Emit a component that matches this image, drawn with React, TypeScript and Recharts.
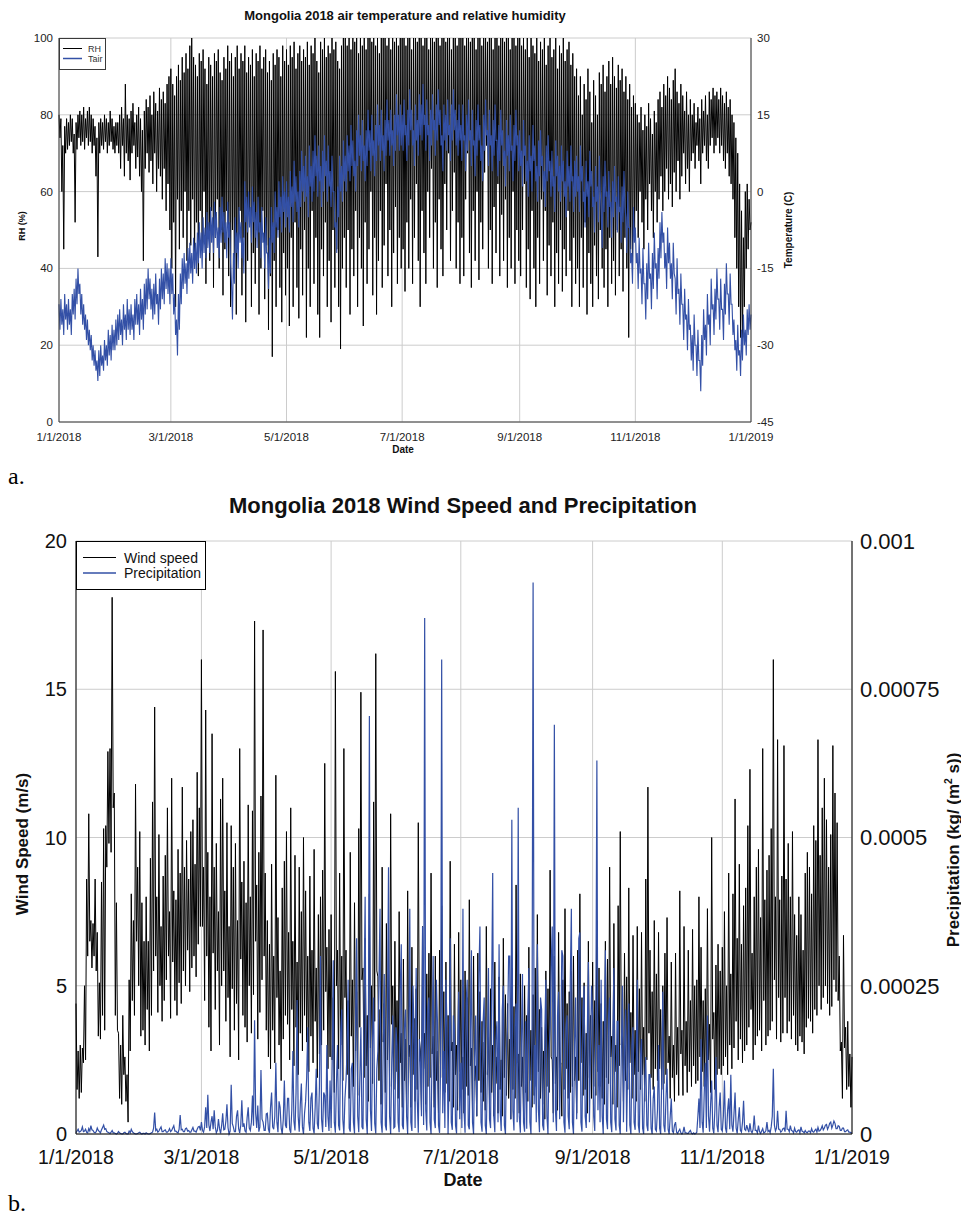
import React from 'react';
import { LineChart, Line, XAxis, YAxis, CartesianGrid } from 'recharts';

const FONT = '"Liberation Sans", Arial, Helvetica, sans-serif';
const SERIF = '"Liberation Serif", "Times New Roman", serif';

// x axis: day of year, 0 = 1/1/2018, 365 = 1/1/2019
const dateTickDays = [0, 59, 120, 181, 243, 304, 365];
const dateTickLabels = ['1/1/2018', '3/1/2018', '5/1/2018', '7/1/2018', '9/1/2018', '11/1/2018', '1/1/2019'];

const rhTicks = [0, 20, 40, 60, 80, 100];
const tempTicks = [-45, -30, -15, 0, 15, 30];
const windTicks = [0, 5, 10, 15, 20];
const precipTicks = [0, 0.00025, 0.0005, 0.00075, 0.001];

// relative humidity (%), two readings per day (one line per month)
const relHumidity = [
  80, 74, 79, 60, 72, 45, 77, 70, 79, 71, 78, 72, 80, 73, 79, 70, 75, 52, 78, 71, 80, 74, 81, 72, 80, 73, 82, 71, 79, 74, 81, 72, 82, 73, 80, 70, 79, 72, 77, 64, 74, 43, 78, 70, 79, 72, 78, 71, 80, 73, 79, 70, 78, 72, 81, 73, 79, 71, 77, 70, 78, 72,
  78, 70, 80, 66, 82, 72, 79, 64, 88, 70, 80, 68, 79, 63, 81, 70, 83, 72, 78, 66, 80, 69, 82, 64, 79, 60, 76, 42, 81, 66, 84, 70, 82, 65, 85, 68, 80, 62, 86, 70, 83, 60, 81, 66, 87, 64, 84, 58, 86, 66, 83, 55, 88, 62, 90, 50,
  92, 40, 88, 52, 85, 30, 90, 58, 93, 45, 89, 55, 95, 48, 91, 60, 96, 42, 92, 55, 98, 46, 100, 58, 95, 40, 93, 52, 90, 38, 96, 55, 94, 45, 97, 60, 92, 36, 88, 50, 95, 42, 93, 55, 90, 35, 96, 48, 94, 58, 97, 40, 91, 50, 89, 33, 95, 45, 92, 55, 98, 38,
  94, 30, 96, 50, 90, 38, 95, 28, 98, 45, 92, 55, 96, 33, 94, 48, 98, 26, 91, 42, 95, 52, 93, 30, 97, 44, 90, 36, 96, 50, 94, 28, 98, 40, 92, 55, 95, 32, 97, 46, 91, 24, 94, 38, 89, 17, 96, 42, 93, 30, 97, 50, 95, 35, 90, 26, 98, 44, 94, 33,
  97, 40, 93, 25, 98, 48, 95, 30, 99, 52, 92, 35, 96, 27, 98, 45, 94, 33, 97, 50, 95, 22, 99, 40, 93, 30, 98, 55, 96, 36, 100, 48, 94, 28, 91, 22, 99, 45, 97, 38, 100, 52, 95, 30, 98, 42, 96, 26, 100, 50, 97, 35, 99, 45, 94, 30, 92, 19, 98, 40, 100, 48,
  100, 35, 98, 50, 100, 28, 97, 45, 100, 38, 99, 55, 100, 30, 96, 48, 100, 40, 98, 25, 100, 52, 97, 36, 100, 45, 100, 60, 99, 33, 100, 48, 98, 28, 100, 42, 96, 55, 100, 35, 100, 46, 100, 62, 98, 38, 100, 50, 97, 30, 100, 44, 99, 56, 100, 36, 98, 48, 100, 40,
  100, 45, 100, 34, 98, 52, 100, 40, 100, 58, 97, 36, 100, 48, 100, 62, 99, 42, 100, 30, 100, 55, 98, 44, 100, 36, 100, 60, 97, 48, 100, 66, 100, 40, 99, 52, 100, 35, 100, 58, 98, 45, 100, 38, 100, 62, 99, 50, 100, 70, 100, 42, 97, 55, 100, 65, 100, 40, 98, 52, 100, 36,
  100, 48, 100, 38, 98, 58, 100, 70, 100, 44, 99, 35, 100, 55, 100, 42, 97, 60, 100, 37, 100, 52, 98, 45, 100, 65, 100, 72, 99, 40, 100, 50, 100, 36, 97, 56, 100, 44, 100, 62, 98, 38, 100, 54, 100, 42, 99, 58, 100, 35, 100, 48, 97, 40, 100, 60, 100, 36, 98, 50, 100, 42,
  100, 38, 98, 50, 100, 62, 97, 35, 100, 45, 95, 32, 100, 55, 98, 40, 96, 30, 100, 48, 94, 36, 99, 58, 97, 42, 100, 55, 93, 33, 98, 46, 100, 38, 95, 52, 97, 30, 100, 44, 92, 36, 98, 50, 96, 34, 100, 45, 94, 38, 97, 55, 99, 42, 93, 30, 96, 48, 90, 36,
  92, 40, 85, 30, 90, 48, 80, 35, 88, 52, 84, 28, 92, 44, 86, 36, 78, 30, 89, 46, 85, 38, 80, 32, 91, 50, 88, 40, 93, 35, 86, 45, 90, 30, 94, 48, 88, 36, 95, 42, 90, 33, 87, 50, 93, 38, 89, 45, 92, 34, 86, 48, 90, 40, 84, 22, 88, 45, 82, 38, 85, 50,
  83, 55, 80, 48, 78, 60, 82, 52, 76, 45, 80, 58, 77, 50, 83, 62, 79, 55, 75, 48, 81, 60, 78, 52, 84, 58, 86, 64, 82, 55, 88, 60, 85, 66, 90, 58, 87, 62, 84, 56, 89, 65, 92, 60, 86, 68, 83, 58, 88, 64, 85, 70, 81, 62, 86, 66, 80, 60, 84, 68,
  80, 70, 83, 66, 78, 72, 82, 68, 79, 62, 84, 70, 81, 72, 85, 68, 80, 66, 86, 72, 84, 74, 87, 70, 85, 72, 86, 74, 84, 70, 87, 72, 85, 68, 83, 66, 86, 70, 82, 64, 84, 62, 80, 58, 78, 48, 74, 40, 70, 30, 62, 22, 55, 20, 48, 30, 60, 40, 62, 45, 58, 50,
  52,
];

// air temperature (C), two readings per day (one line per month)
const airTemp = [
  -22, -27, -21, -26, -23, -28, -20, -25, -22, -27, -21, -26, -23, -28, -20, -24, -19, -25, -17, -22, -15, -20, -18, -24, -20, -26, -22, -27, -24, -29, -25, -30, -27, -31, -28, -33, -30, -34, -31, -35, -33, -37, -31, -36, -30, -34, -32, -35, -29, -33, -30, -34, -27, -32, -28, -33, -26, -31, -27, -31, -25, -30,
  -24, -29, -23, -28, -25, -30, -22, -27, -24, -29, -21, -27, -23, -28, -22, -27, -24, -29, -21, -26, -20, -26, -22, -28, -19, -25, -21, -27, -18, -24, -17, -23, -15, -21, -17, -23, -19, -25, -18, -24, -16, -22, -20, -26, -17, -23, -15, -21, -16, -22, -13, -19, -14, -20, -15, -22,
  -13, -20, -16, -24, -20, -28, -25, -32, -20, -27, -16, -22, -13, -19, -12, -18, -14, -20, -11, -17, -10, -16, -12, -18, -9, -15, -10, -16, -8, -14, -6, -13, -8, -15, -5, -12, -7, -13, -4, -11, -6, -12, -3, -10, -5, -12, -2, -9, -4, -11, -7, -13, -3, -10, -1, -8, -4, -10, -6, -13, -2, -9,
  -6, -14, -18, -25, -12, -18, -5, -12, -8, -15, -3, -10, -6, -13, -9, -16, 2, -6, -1, -8, 0, -7, -3, -10, 1, -6, -2, -9, -4, -11, -1, -8, -6, -13, -3, -10, -8, -15, -5, -12, -12, -19, -9, -16, -3, -10, -6, -12, 0, -7, -3, -9, 2, -5, -1, -8, 3, -4, 0, -7,
  2, -5, -1, -8, 4, -3, 1, -6, 6, -2, 3, -4, 0, -7, 4, -3, 8, 0, 5, -2, 7, -1, 3, -5, 9, 1, 5, -2, 8, 0, 11, 3, 7, -1, 9, 2, 5, -3, 8, 0, 11, 3, 6, -2, 9, 1, 4, -3, 7, 0, 0, -7, -6, -12, 1, -5, 7, 0, 5, -2, 10, 2,
  7, 0, 11, 4, 9, 2, 13, 5, 10, 3, 6, 0, 12, 5, 15, 7, 11, 4, 14, 6, 9, 2, 12, 5, 16, 8, 12, 4, 15, 7, 10, 3, 13, 6, 17, 9, 13, 6, 16, 8, 11, 4, 14, 7, 18, 10, 14, 7, 16, 9, 12, 5, 15, 8, 19, 11, 15, 8, 17, 9,
  15, 8, 18, 11, 13, 6, 16, 9, 20, 12, 16, 9, 12, 5, 17, 10, 14, 7, 19, 11, 17, 10, 21, 13, 15, 8, 18, 11, 13, 6, 16, 9, 19, 12, 14, 7, 17, 10, 20, 13, 16, 9, 11, 4, 17, 10, 15, 8, 18, 11, 13, 6, 17, 10, 20, 12, 16, 9, 14, 7, 17, 10,
  13, 6, 17, 10, 11, 4, 15, 8, 18, 10, 12, 5, 16, 9, 10, 3, 14, 7, 17, 10, 13, 6, 9, 2, 15, 8, 18, 11, 12, 5, 16, 9, 11, 4, 14, 7, 17, 10, 10, 3, 13, 6, 16, 9, 12, 5, 8, 1, 14, 7, 11, 4, 15, 8, 9, 2, 13, 6, 16, 9, 11, 4,
  12, 5, 8, 1, 14, 7, 9, 2, 6, -1, 11, 4, 7, 0, 13, 6, 9, 2, 5, -2, 10, 3, 12, 5, 7, 0, 4, -3, 9, 2, 11, 4, 6, -1, 8, 1, 3, -4, 10, 3, 7, 0, 5, -2, 9, 2, 6, -1, 2, -5, 8, 1, 5, -2, 9, 2, 3, -4, 6, -1,
  7, 0, 3, -4, 9, 2, 5, -2, 0, -7, 6, -1, 2, -5, 8, 1, 4, -3, -1, -8, 5, -2, 1, -6, 7, 0, -4, -11, 3, -4, 6, -1, 0, -7, 4, -3, -2, -9, 2, -5, 5, -2, -1, -8, 3, -4, -3, -10, 1, -6, 4, -3, -5, -12, 0, -7, -7, -14, -12, -18, -3, -10,
  -7, -14, -12, -19, -9, -16, -15, -22, -11, -18, -18, -25, -14, -21, -10, -17, -16, -23, -12, -19, -8, -15, -14, -21, -11, -17, -6, -13, -4, -10, -8, -15, -12, -19, -7, -14, -10, -17, -14, -21, -10, -16, -17, -24, -13, -20, -19, -26, -16, -22, -22, -29, -19, -25, -24, -31, -21, -27, -26, -33,
  -28, -35, -24, -30, -30, -36, -27, -33, -33, -39, -28, -34, -23, -29, -26, -32, -20, -26, -24, -30, -17, -23, -22, -28, -19, -25, -15, -21, -21, -27, -17, -23, -23, -29, -18, -24, -14, -20, -20, -26, -16, -22, -22, -28, -25, -31, -29, -35, -26, -32, -31, -36, -27, -33, -24, -30, -27, -32, -23, -28, -22, -27,
  -24,
];

// wind speed (m/s), daytime and night-time reading per day (one line per month)
const windSpeed = [
  4.4, 1.5, 2.8, 1.2, 3.0, 1.4, 2.9, 2.4, 5.0, 2.5, 8.6, 6.0, 10.8, 6.5, 7.2, 5.6, 7.1, 6.0, 8.6, 5.5, 6.8, 3.3, 5.1, 3.2, 8.5, 4.0, 10.3, 3.5, 10.4, 9.0, 12.9, 9.8, 13.0, 9.5, 18.1, 11.0, 11.5, 4.0, 7.8, 3.5, 3.4, 1.2, 3.0, 1.0, 4.0, 2.0, 2.6, 1.1, 2.0, 0.4, 5.2, 2.8, 8.1, 4.5, 7.2, 4.0, 11.8, 6.5, 9.0, 5.0, 10.2, 3.3,
  7.8, 3.5, 6.5, 3.0, 8.0, 4.2, 6.5, 2.8, 9.3, 4.0, 11.2, 5.5, 14.4, 6.0, 8.0, 4.1, 10.1, 5.0, 7.0, 3.8, 8.7, 4.5, 9.4, 5.2, 11.0, 6.0, 7.5, 3.9, 12.0, 5.8, 8.2, 4.5, 7.9, 4.0, 9.6, 5.1, 8.8, 4.4, 11.7, 5.5, 9.0, 5.0, 9.9, 6.2, 8.6, 4.8, 10.2, 5.6, 10.6, 6.0, 9.1, 5.3, 12.2, 6.4, 11.0, 7.0,
  16.0, 7.0, 9.0, 4.5, 14.3, 6.0, 9.5, 3.6, 8.0, 2.8, 13.5, 6.1, 9.0, 4.2, 9.8, 5.5, 7.5, 3.0, 11.3, 5.0, 12.0, 5.5, 8.2, 3.8, 10.5, 4.6, 7.0, 2.6, 10.4, 4.9, 9.0, 3.5, 9.8, 4.4, 7.2, 2.5, 13.0, 5.9, 8.5, 4.0, 9.2, 3.6, 7.8, 3.1, 11.1, 5.0, 8.0, 3.4, 10.9, 4.7, 17.3, 6.5, 8.4, 3.2, 9.5, 4.1, 11.4, 5.2, 17.0, 6.0, 8.8, 3.5,
  7.2, 2.6, 6.4, 2.2, 9.1, 3.5, 6.0, 2.4, 12.1, 4.6, 7.3, 3.0, 5.5, 1.8, 8.3, 3.2, 9.2, 4.0, 10.2, 3.7, 6.8, 2.5, 11.0, 4.2, 6.5, 2.3, 9.4, 3.6, 5.8, 2.0, 9.0, 3.4, 7.5, 2.8, 10.0, 4.0, 8.2, 3.1, 6.0, 2.1, 8.7, 3.3, 6.2, 2.4, 9.6, 3.8, 5.6, 1.9, 7.4, 2.7, 8.0, 3.0, 8.9, 3.5, 12.5, 4.8, 6.3, 2.2, 6.9, 2.6,
  7.4, 2.5, 4.6, 1.4, 15.6, 5.0, 6.2, 2.2, 8.8, 3.0, 6.0, 1.8, 13.0, 4.6, 6.2, 2.0, 4.5, 1.2, 9.5, 3.3, 5.2, 1.6, 7.8, 2.8, 4.8, 1.3, 10.3, 3.6, 14.9, 5.2, 5.6, 1.9, 6.6, 2.3, 4.0, 1.1, 8.1, 2.9, 5.0, 1.7, 11.2, 3.8, 16.2, 5.5, 5.3, 1.8, 4.2, 1.0, 9.0, 3.1, 4.4, 1.4, 7.1, 2.5, 5.5, 1.6, 10.8, 3.7, 5.0, 1.5, 6.5, 2.1,
  4.5, 1.2, 7.5, 2.4, 3.4, 0.9, 5.9, 1.8, 3.2, 0.8, 8.2, 2.6, 3.0, 0.9, 6.3, 2.0, 3.9, 1.1, 4.9, 1.5, 10.5, 3.2, 2.8, 0.8, 7.0, 2.2, 3.4, 1.0, 5.4, 1.6, 6.1, 1.9, 8.8, 2.7, 3.3, 0.9, 6.0, 1.8, 2.8, 0.7, 6.2, 1.9, 7.7, 2.4, 4.8, 1.4, 5.8, 1.7, 4.0, 1.1, 9.2, 2.8, 3.1, 0.9, 6.4, 2.0, 3.0, 0.8, 6.8, 2.1,
  5.2, 1.5, 2.6, 0.7, 5.5, 1.6, 4.6, 1.3, 7.9, 2.3, 2.9, 0.8, 6.0, 1.8, 2.3, 0.6, 6.1, 1.8, 4.8, 1.4, 3.8, 1.1, 3.1, 0.8, 7.0, 2.0, 3.6, 1.0, 4.9, 1.4, 3.0, 0.6, 5.8, 1.7, 2.6, 0.7, 5.3, 1.5, 2.5, 0.6, 6.6, 1.9, 4.7, 1.3, 4.4, 1.2, 3.2, 0.5, 5.2, 1.5, 4.3, 1.2, 8.4, 2.4, 2.7, 0.7, 5.4, 1.6, 2.6, 0.7, 5.0, 1.4,
  4.0, 1.1, 6.3, 1.8, 3.5, 0.9, 4.7, 1.3, 5.6, 1.6, 7.4, 2.1, 4.2, 1.2, 3.6, 1.0, 2.8, 0.5, 5.5, 1.6, 4.9, 1.4, 8.9, 2.6, 2.5, 0.7, 6.0, 1.7, 2.6, 0.8, 6.8, 2.0, 2.4, 0.6, 5.2, 1.5, 7.6, 2.2, 4.4, 1.2, 4.8, 1.4, 5.5, 1.6, 6.0, 1.8, 2.6, 0.7, 6.2, 1.8, 8.1, 2.4, 4.6, 1.3, 5.1, 1.5, 3.4, 0.7, 6.5, 1.9, 4.0, 1.2,
  5.8, 1.6, 4.5, 1.3, 7.2, 2.1, 5.6, 1.6, 4.4, 1.2, 3.8, 1.0, 6.5, 1.9, 5.9, 1.7, 9.0, 2.6, 3.3, 1.0, 7.1, 2.1, 3.0, 0.9, 7.7, 2.3, 10.2, 3.0, 3.4, 1.1, 6.1, 1.8, 5.3, 1.5, 8.3, 2.4, 4.1, 1.2, 6.7, 2.0, 3.5, 1.1, 7.0, 2.1, 4.9, 1.5, 6.8, 2.0, 3.6, 1.1, 8.6, 2.5, 11.7, 3.4, 6.2, 1.9, 4.8, 1.5, 7.2, 2.2,
  5.4, 1.8, 6.8, 2.2, 4.2, 1.5, 5.0, 1.7, 6.1, 2.0, 7.3, 2.4, 3.3, 1.2, 5.8, 1.9, 3.0, 1.1, 6.1, 2.0, 3.6, 1.3, 8.2, 2.7, 3.5, 1.3, 7.0, 2.3, 3.8, 1.4, 6.2, 2.1, 4.5, 1.6, 6.9, 2.3, 5.0, 1.7, 5.2, 1.8, 8.0, 2.6, 6.3, 2.1, 4.5, 1.6, 4.9, 1.7, 7.6, 2.5, 3.7, 1.4, 10.0, 3.2, 4.1, 1.5, 5.7, 2.0, 6.4, 2.2, 5.5, 2.0,
  6.3, 2.3, 7.5, 2.6, 5.0, 2.0, 8.8, 3.0, 5.4, 2.2, 8.1, 2.9, 11.3, 3.8, 6.6, 2.5, 9.1, 3.2, 6.4, 2.4, 7.7, 2.8, 8.3, 3.0, 10.4, 3.6, 12.3, 4.2, 6.1, 2.5, 8.0, 3.0, 9.0, 3.3, 9.6, 3.5, 7.3, 2.8, 13.0, 4.5, 7.9, 3.0, 8.9, 3.3, 9.4, 3.5, 10.3, 3.8, 16.0, 5.2, 8.0, 3.2, 13.3, 4.6, 7.9, 3.1, 8.7, 3.4, 13.1, 4.6,
  8.6, 3.4, 9.8, 3.8, 8.0, 3.2, 10.2, 4.0, 7.4, 3.0, 6.7, 2.8, 8.0, 3.3, 7.4, 3.1, 6.2, 2.7, 8.8, 3.6, 9.5, 3.9, 9.0, 3.8, 8.1, 3.4, 10.4, 4.2, 9.9, 4.0, 13.3, 5.0, 9.4, 4.2, 11.0, 4.6, 12.0, 5.0, 10.6, 4.4, 9.0, 4.0, 10.1, 4.3, 13.1, 5.2, 11.5, 4.8, 10.5, 4.5, 6.0, 2.8, 3.1, 1.2, 6.7, 2.9, 3.6, 1.5, 3.8, 1.6, 2.7, 0.9,
  2.6,
];

// precipitation in 1e-6 kg/(m2 s), two readings per day (one line per month)
const precipMicro = [
  2, 5, 8, 3, 4, 6, 12, 4, 5, 8, 3, 2, 9, 5, 14, 7, 6, 3, 2, 4, 10, 6, 4, 2, 7, 11, 15, 8, 9, 4, 3, 2, 1, 3, 6, 2, 2, 1, 0, 1, 4, 2, 1, 0, 0, 2, 3, 1, 0, 0, 5, 2, 8, 4, 2, 1, 0, 0, 1, 2, 3, 1,
  0, 1, 1, 0, 2, 1, 0, 0, 1, 2, 3, 10, 36, 6, 8, 3, 5, 9, 12, 4, 4, 6, 7, 3, 3, 5, 9, 4, 6, 10, 14, 5, 5, 3, 2, 8, 32, 7, 8, 4, 4, 9, 10, 5, 6, 3, 3, 7, 11, 5, 5, 3, 8, 12, 13, 6,
  20, 6, 3, 12, 45, 10, 66, 15, 5, 20, 30, 8, 40, 12, 2, 6, 25, 9, 1, 14, 35, 7, 8, 22, 50, 11, 0, 5, 83, 18, 12, 4, 4, 30, 40, 9, 2, 15, 57, 12, 18, 5, 3, 28, 45, 10, 6, 20, 65, 14, 192, 35, 10, 48, 4, 12, 108, 25, 20, 6, 6, 34,
  35, 8, 2, 45, 70, 12, 8, 30, 120, 20, 3, 55, 45, 10, 0, 25, 90, 15, 10, 60, 60, 8, 2, 40, 140, 22, 6, 70, 226, 30, 4, 50, 85, 12, 0, 35, 55, 95, 180, 20, 5, 60, 70, 10, 1, 45, 110, 18, 8, 80, 300, 25, 3, 70, 65, 12, 150, 30, 5, 90,
  10, 120, 293, 20, 2, 85, 150, 15, 6, 170, 210, 25, 0, 60, 90, 140, 260, 10, 4, 110, 120, 20, 1, 190, 330, 30, 3, 95, 180, 12, 8, 240, 400, 25, 0, 130, 705, 40, 5, 160, 230, 18, 1, 110, 140, 260, 380, 20, 2, 150, 270, 15, 6, 200, 450, 30, 0, 120, 200, 10, 12, 180,
  150, 20, 3, 240, 320, 15, 8, 180, 210, 30, 0, 140, 380, 20, 5, 250, 170, 10, 280, 60, 2, 160, 120, 30, 350, 15, 870, 40, 6, 210, 230, 20, 0, 150, 300, 25, 10, 260, 190, 15, 2, 120, 800, 35, 140, 10, 260, 180, 0, 90, 330, 20, 7, 200, 180, 15, 1, 140, 240, 25,
  120, 10, 380, 40, 2, 220, 260, 15, 8, 170, 310, 20, 0, 130, 200, 30, 150, 270, 350, 20, 4, 190, 230, 15, 0, 110, 280, 25, 10, 240, 440, 30, 3, 160, 190, 20, 320, 40, 5, 210, 250, 15, 0, 140, 180, 300, 300, 25, 530, 40, 6, 180, 220, 20, 550, 30, 2, 150, 270, 20, 4, 190,
  9, 200, 280, 20, 0, 160, 930, 50, 150, 20, 320, 40, 3, 230, 210, 15, 6, 170, 260, 30, 0, 140, 180, 280, 350, 20, 690, 40, 5, 200, 240, 25, 140, 310, 300, 20, 2, 180, 200, 30, 8, 260, 380, 20, 0, 150, 230, 25, 160, 330, 340, 20, 4, 210, 250, 30, 10, 170, 290, 20, 140, 250,
  200, 30, 5, 180, 630, 40, 150, 20, 260, 30, 0, 170, 310, 25, 8, 200, 230, 20, 3, 160, 280, 25, 6, 190, 190, 15, 0, 140, 250, 20, 140, 210, 4, 120, 220, 15, 0, 150, 180, 20, 7, 110, 260, 15, 2, 130, 160, 10, 0, 90, 130, 15, 5, 100, 100, 10, 0, 60, 80, 8,
  5, 40, 150, 10, 0, 90, 240, 15, 3, 60, 110, 8, 0, 30, 60, 5, 2, 15, 20, 3, 1, 5, 8, 2, 0, 3, 12, 2, 2, 1, 1, 4, 6, 1, 0, 2, 0, 1, 3, 30, 60, 10, 160, 20, 2, 70, 120, 10, 200, 30, 4, 50, 90, 10, 1, 40, 130, 15, 3, 45, 70, 8,
  5, 30, 90, 10, 2, 40, 60, 8, 100, 15, 4, 35, 70, 10, 1, 25, 45, 6, 3, 20, 56, 8, 6, 15, 8, 3, 18, 5, 2, 8, 31, 6, 6, 2, 14, 4, 1, 5, 9, 2, 3, 6, 20, 4, 6, 2, 12, 30, 110, 15, 5, 10, 39, 8, 8, 3, 5, 9, 10, 4,
  39, 8, 8, 4, 14, 6, 5, 2, 10, 4, 3, 6, 7, 2, 12, 5, 4, 2, 6, 3, 2, 5, 5, 2, 9, 4, 3, 6, 8, 3, 11, 5, 6, 9, 14, 7, 10, 15, 16, 8, 12, 18, 20, 10, 15, 22, 18, 9, 9, 14, 13, 6, 6, 10, 10, 4, 4, 6, 7, 3, 3, 2,
  2,
];

// half-day readings for every series
const rhRows = relHumidity.map((value, i) => ({ day: i / 2, value }));
const tairRows = airTemp.map((value, i) => ({ day: i / 2, value }));
const windRows = windSpeed.map((value, i) => ({ day: i / 2, value }));
const precipRows = precipMicro.map((value, i) => ({ day: i / 2, value: value * 1e-6 }));

const formatDate = (v: number) => dateTickLabels[dateTickDays.indexOf(v)] ?? '';

const BLUE = '#3350a6';
const FRAME = '#3a3a3a';
const GRID = '#cccccc';

type CaptionProps = {
  x: number;
  y: number;
  size: number;
  bold?: boolean;
  rotate?: boolean;
  family?: string;
  children: React.ReactNode;
};

const Caption = ({ x, y, size, bold, rotate, family, children }: CaptionProps) => (
  <div
    style={{
      position: 'absolute',
      left: x,
      top: y,
      transform: `translate(-50%, -50%)${rotate ? ' rotate(-90deg)' : ''}`,
      fontSize: size,
      fontWeight: bold ? 700 : 400,
      fontFamily: family ?? FONT,
      whiteSpace: 'nowrap',
      lineHeight: 1,
      color: '#111',
    }}
  >
    {children}
  </div>
);

const TemperatureHumidityChart = () => (
  <div style={{ position: 'absolute', left: 0, top: 0 }}>
    <LineChart width={961} height={470} margin={{ top: 38, right: 0, bottom: 0, left: 0 }}>
      <CartesianGrid xAxisId="date" yAxisId="rh" stroke={GRID} strokeWidth={1} />
      <XAxis
        xAxisId="date"
        dataKey="day"
        type="number"
        domain={[0, 365]}
        ticks={dateTickDays}
        interval={0}
        tickFormatter={formatDate}
        tickLine={false}
        tickMargin={5}
        axisLine={{ stroke: FRAME }}
        tick={{ fill: '#222', fontSize: 11.5, fontFamily: FONT }}
        height={48}
      />
      <XAxis xAxisId="frame" orientation="top" type="number" domain={[0, 365]} tick={false} tickLine={false} axisLine={{ stroke: FRAME }} height={0} />
      <YAxis
        yAxisId="rh"
        type="number"
        domain={[0, 100]}
        ticks={rhTicks}
        interval={0}
        width={59}
        tickLine={false}
        tickMargin={0}
        axisLine={{ stroke: FRAME }}
        tick={{ fill: '#222', fontSize: 11.5, fontFamily: FONT }}
      />
      <YAxis
        yAxisId="t"
        type="number"
        orientation="right"
        domain={[-45, 30]}
        ticks={tempTicks}
        interval={0}
        width={210}
        tickLine={false}
        tickMargin={0}
        axisLine={{ stroke: FRAME }}
        tick={{ fill: '#222', fontSize: 11.5, fontFamily: FONT }}
      />
      <Line data={rhRows} xAxisId="date" yAxisId="rh" type="linear" dataKey="value" name="RH" stroke="#000" strokeWidth={1} dot={false} isAnimationActive={false} />
      <Line data={tairRows} xAxisId="date" yAxisId="t" type="linear" dataKey="value" name="Tair" stroke={BLUE} strokeWidth={1.1} dot={false} isAnimationActive={false} />
    </LineChart>
    <svg width={47} height={32} style={{ position: 'absolute', left: 59, top: 38 }}>
      <rect x={0.5} y={0.5} width={46} height={31} fill="#fff" stroke={FRAME} />
      <line x1={4} x2={23} y1={10.5} y2={10.5} stroke="#000" />
      <text x={29} y={14} fontSize={9} fontFamily={FONT} fill="#333">RH</text>
      <line x1={4} x2={23} y1={20.5} y2={20.5} stroke={BLUE} strokeWidth={1.5} />
      <text x={29} y={24} fontSize={9} fontFamily={FONT} fill="#333">Tair</text>
    </svg>
  </div>
);

const WindPrecipChart = () => (
  <div style={{ position: 'absolute', left: 0, top: 490 }}>
    <LineChart width={961} height={700} margin={{ top: 51, right: 0, bottom: 0, left: 0 }}>
      <CartesianGrid xAxisId="date" yAxisId="ws" stroke={GRID} strokeWidth={1} />
      <XAxis
        xAxisId="date"
        dataKey="day"
        type="number"
        domain={[0, 365]}
        ticks={dateTickDays}
        interval={0}
        tickFormatter={formatDate}
        tickLine={false}
        tickMargin={10}
        axisLine={{ stroke: '#000' }}
        tick={{ fill: '#111', fontSize: 19.5, fontFamily: FONT }}
        height={56}
      />
      <XAxis xAxisId="frame" orientation="top" type="number" domain={[0, 365]} tick={false} tickLine={false} axisLine={{ stroke: '#000' }} height={0} />
      <YAxis
        yAxisId="ws"
        type="number"
        domain={[0, 20]}
        ticks={windTicks}
        interval={0}
        width={76}
        tickLine={false}
        tickMargin={3}
        axisLine={{ stroke: '#000' }}
        tick={{ fill: '#111', fontSize: 20, fontFamily: FONT }}
      />
      <YAxis
        yAxisId="pr"
        type="number"
        orientation="right"
        domain={[0, 0.001]}
        ticks={precipTicks}
        interval={0}
        width={109}
        tickLine={false}
        tickMargin={2}
        axisLine={{ stroke: '#000' }}
        tick={{ fill: '#111', fontSize: 22, fontFamily: FONT }}
      />
      <Line data={windRows} xAxisId="date" yAxisId="ws" type="linear" dataKey="value" name="Wind speed" stroke="#000" strokeWidth={1} dot={false} isAnimationActive={false} />
      <Line data={precipRows} xAxisId="date" yAxisId="pr" type="linear" dataKey="value" name="Precipitation" stroke={BLUE} strokeWidth={1.2} dot={false} isAnimationActive={false} />
    </LineChart>
    <svg width={130} height={49} style={{ position: 'absolute', left: 76, top: 51 }}>
      <rect x={0.5} y={0.5} width={129} height={48} fill="#fff" stroke="#000" />
      <line x1={7} x2={40} y1={16.5} y2={16.5} stroke="#000" />
      <text x={48} y={22} fontSize={14} fontFamily={FONT} fill="#111">Wind speed</text>
      <line x1={7} x2={40} y1={32} y2={32} stroke={BLUE} strokeWidth={1.5} />
      <text x={48} y={37} fontSize={14} fontFamily={FONT} fill="#111">Precipitation</text>
    </svg>
  </div>
);

export default function App() {
  return (
    <div style={{ position: 'absolute', left: 0, top: 0, width: 961, height: 1217, background: '#fff' }}>
      <TemperatureHumidityChart />
      <Caption x={405} y={15} size={13} bold>Mongolia 2018 air temperature and relative humidity</Caption>
      <Caption x={403} y={450} size={10} bold>Date</Caption>
      <Caption x={22} y={226} size={9} bold rotate>RH (%)</Caption>
      <Caption x={789} y={230} size={10} bold rotate>Temperature (C)</Caption>
      <div style={{ position: 'absolute', left: 8, top: 464, fontSize: 24, fontFamily: SERIF, lineHeight: 1 }}>a.</div>

      <WindPrecipChart />
      <Caption x={463} y={506} size={22} bold>Mongolia 2018 Wind Speed and Precipitation</Caption>
      <Caption x={463} y={1180} size={18} bold>Date</Caption>
      <Caption x={22} y={844} size={17} bold rotate>Wind Speed (m/s)</Caption>
      <Caption x={953} y={850} size={17} bold rotate>
        Precipitation (kg/ (m<sup style={{ fontSize: '0.6em' }}>2</sup> s))
      </Caption>
      <div style={{ position: 'absolute', left: 8, top: 1191, fontSize: 24, fontFamily: SERIF, lineHeight: 1 }}>b.</div>
    </div>
  );
}
